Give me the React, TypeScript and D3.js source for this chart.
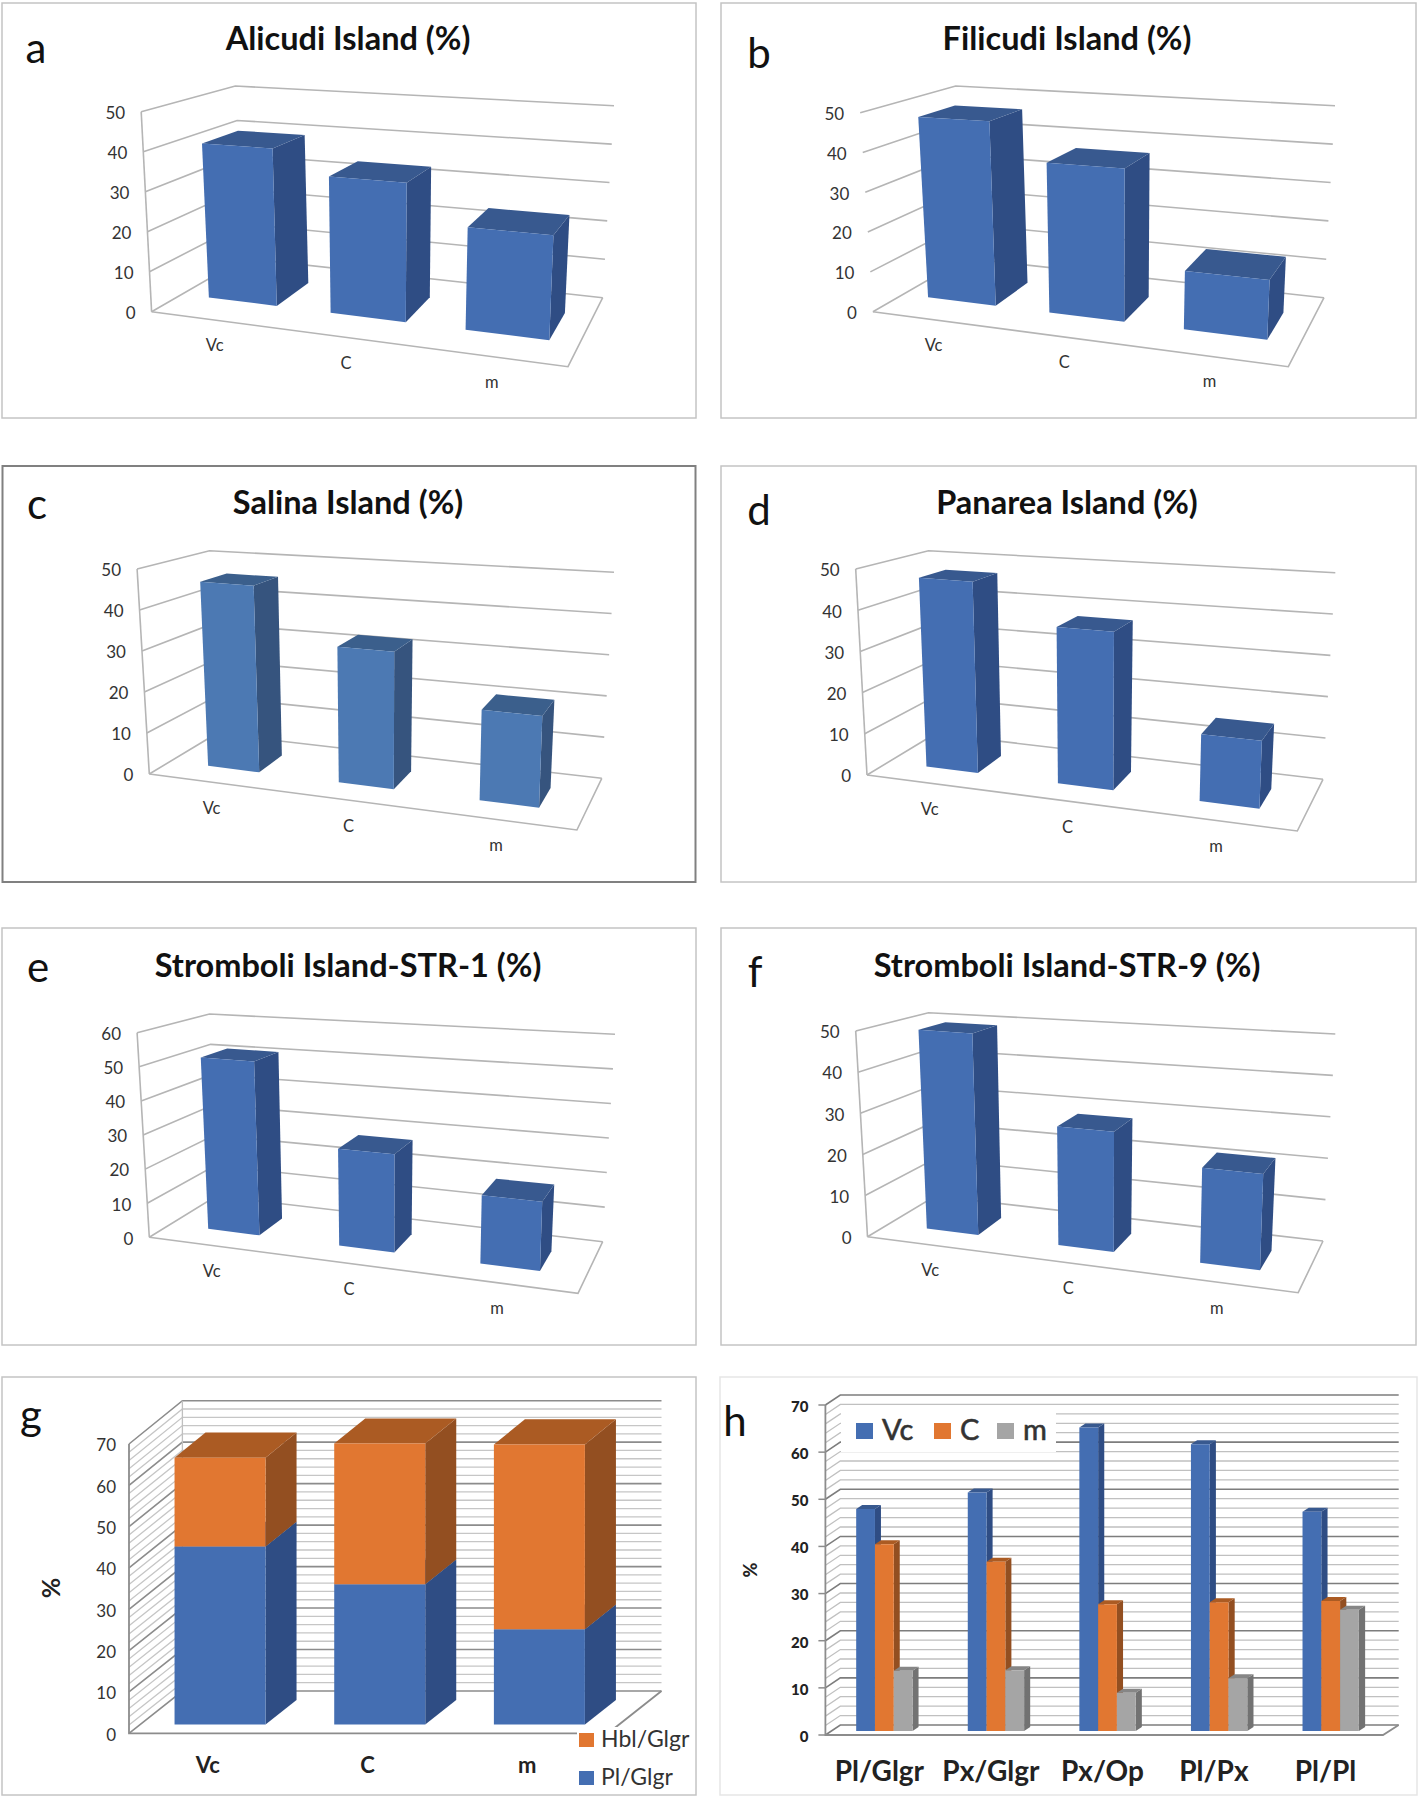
import React, { useEffect, useRef } from 'react';
import * as d3 from 'd3';

type Pt = [number, number];

const islandCategories = ['Vc', 'C', 'm'];
const alicudi = [40, 34, 24.5];
const filicudi = [47, 37.5, 14];
const salina = [46, 32.7, 21];
const panarea = [47, 37.5, 15.5];
const str1 = [51.5, 28, 19];
const str9 = [49.5, 28.5, 22];

const plGlgr = [43, 33.9, 23];
const hblGlgr = [21.5, 34, 44.7];

const ratioCategories = ['Pl/Glgr', 'Px/Glgr', 'Px/Op', 'Pl/Px', 'Pl/Pl'];
const ratioVc = [47.1, 50.6, 64.4, 60.8, 46.5];
const ratioC = [39.6, 35.9, 26.9, 27.3, 27.6];
const ratioM = [12.8, 12.9, 8.1, 11.2, 25.7];

const BLUE = { front: '#446eb2', side: '#2f4d84', top: '#38598f' };
const SOFT_BLUE = { front: '#4c79b3', side: '#36547e', top: '#3b5f8c' };
const ORANGE = { front: '#e17731', side: '#934f21', top: '#ab5b23' };
const GRAY = { front: '#a5a5a5', side: '#727272', top: '#868686' };

interface Box {
  floor: Pt[]; // front-left, front-right, back-right, back-left
  top: Pt[];
  warp?: number; // foreshortening along the category axis
}

function bilinear(q: Pt[], u: number, v: number): Pt {
  const f = (i: number) =>
    (q[0][i] * (1 - u) + q[1][i] * u) * (1 - v) + (q[3][i] * (1 - u) + q[2][i] * u) * v;
  return [f(0), f(1)];
}

function projector(box: Box) {
  const k = box.warp || 0;
  return (u: number, v: number, w: number): Pt => {
    const s = u / (1 + k * (1 - u));
    const a = bilinear(box.floor, s, v), b = bilinear(box.top, s, v);
    return [a[0] + (b[0] - a[0]) * w, a[1] + (b[1] - a[1]) * w];
  };
}

const line = d3.line<Pt>();
const poly = (pts: Pt[]) => line(pts) + 'Z';

function drawBar(g: any, P: any, u0: number, u1: number, v0: number, v1: number, w0: number, w1: number, c: any) {
  g.append('path').attr('d', poly([P(u1, v0, w0), P(u1, v1, w0), P(u1, v1, w1), P(u1, v0, w1)])).attr('fill', c.side);
  g.append('path').attr('d', poly([P(u0, v0, w1), P(u1, v0, w1), P(u1, v1, w1), P(u0, v1, w1)])).attr('fill', c.top);
  g.append('path').attr('d', poly([P(u0, v0, w0), P(u1, v0, w0), P(u1, v0, w1), P(u0, v0, w1)])).attr('fill', c.front);
}

function panelFrame(svg: any, f: number[], color = '#c4c4c4', width = 1.5) {
  svg.append('rect').attr('x', f[0]).attr('y', f[1]).attr('width', f[2] - f[0]).attr('height', f[3] - f[1])
    .attr('fill', '#fff').attr('stroke', color).attr('stroke-width', width);
}

function label(svg: any, x: number, y: number, txt: string, size: number, opts: any = {}) {
  const t = svg.append('text').attr('x', x).attr('y', y)
    .attr('font-family', 'Lato, "Open Sans", sans-serif')
    .attr('font-size', size)
    .attr('font-weight', opts.weight || 400)
    .attr('fill', opts.fill || '#333')
    .attr('text-anchor', opts.anchor || 'middle')
    .attr('dominant-baseline', opts.baseline || 'auto')
    .text(txt);
  if (opts.rotate) t.attr('transform', `rotate(${opts.rotate} ${x} ${y})`);
  if (opts.heavy) t.attr('stroke', opts.fill || '#333').attr('stroke-width', opts.heavy);
  return t;
}

interface IslandPanel {
  title: string; letter: string; values: number[]; max: number;
  frame: number[]; box: Box; titleAt: Pt; letterAt: Pt;
  padInner: number; depth: Pt; uShift?: number; catDx?: number;
  colors?: any; axisLine?: boolean; frameColor?: string; frameWidth?: number;
}

const islandPanels: IslandPanel[] = [
  {
    title: 'Alicudi Island (%)', letter: 'a', values: alicudi, max: 50, frame: [2, 3, 696, 418],
    box: {
      floor: [[151.6, 311.7], [568, 366.7], [602.7, 297.7], [244.3, 258.3]],
      top: [[141.2, 111.7], [577.4, 139], [614, 105.7], [235.3, 86]],
      warp: 0.17,
    },
    titleAt: [348, 50], letterAt: [36, 63], padInner: 0.43, depth: [0.33, 0.73], uShift: 0.006, axisLine: true,
  },
  {
    title: 'Filicudi Island (%)', letter: 'b', values: filicudi, max: 50, frame: [721, 3, 1416, 418],
    box: {
      floor: [[872.9, 311.7], [1288.3, 366.7], [1324, 297.7], [965.7, 258.3]],
      top: [[860.2, 112.7], [1298.2, 139], [1335, 105.7], [955.7, 86]],
      warp: 0.17,
    },
    titleAt: [1067, 50], letterAt: [759, 68], padInner: 0.43, depth: [0.33, 0.73],
  },
  {
    title: 'Salina Island (%)', letter: 'c', values: salina, max: 50, frame: [2.5, 466, 695.5, 882],
    box: {
      floor: [[149.3, 774], [576.9, 830], [601.8, 778.3], [216.3, 733.7]],
      top: [[137.1, 569], [586, 602], [614, 572.3], [209.5, 550.7]],
      warp: 0.12,
    },
    titleAt: [348, 514], letterAt: [37, 519], padInner: 0.6, depth: [0.32, 0.71], catDx: -2.5,
    colors: SOFT_BLUE, axisLine: true, frameColor: '#808080', frameWidth: 2,
  },
  {
    title: 'Panarea Island (%)', letter: 'd', values: panarea, max: 50, frame: [721, 466, 1416, 882],
    box: {
      floor: [[867, 775], [1297.3, 831], [1323, 779.3], [935.3, 733.7]],
      top: [[855.7, 569], [1306.4, 602], [1335.3, 572.7], [928.5, 550.7]],
      warp: 0.12,
    },
    titleAt: [1067, 514], letterAt: [759, 525], padInner: 0.6, depth: [0.32, 0.71], catDx: -2.5, axisLine: true,
  },
  {
    title: 'Stromboli Island-STR-1 (%)', letter: 'e', values: str1, max: 60, frame: [2, 928, 696, 1345],
    box: {
      floor: [[149.3, 1237.3], [578, 1293.3], [602.7, 1241.7], [216.3, 1196]],
      top: [[137.1, 1032.7], [586, 1065], [615, 1034.3], [209.5, 1014]],
      warp: 0.12,
    },
    titleAt: [348, 977], letterAt: [38, 982], padInner: 0.6, depth: [0.32, 0.71], catDx: -2.5, axisLine: true,
  },
  {
    title: 'Stromboli Island-STR-9 (%)', letter: 'f', values: str9, max: 50, frame: [721, 928, 1416, 1345],
    box: {
      floor: [[867.5, 1236.7], [1298.2, 1292.7], [1323, 1241], [935.3, 1196]],
      top: [[855.7, 1031], [1306.4, 1064], [1335.3, 1034], [928.5, 1012.7]],
      warp: 0.12,
    },
    titleAt: [1067, 977], letterAt: [755, 987], padInner: 0.6, depth: [0.32, 0.71], catDx: -2.5, axisLine: true,
  },
];

function drawIsland(svg: any, p: IslandPanel) {
  panelFrame(svg, p.frame, p.frameColor, p.frameWidth);
  label(svg, p.titleAt[0], p.titleAt[1], p.title, 32.5, { weight: 700, fill: '#111' });
  label(svg, p.letterAt[0], p.letterAt[1], p.letter, 42, { fill: '#111' });

  const P = projector(p.box);
  const shift = p.uShift || 0;
  const y = d3.scaleLinear().domain([0, p.max]).range([0, 1]);
  const x = d3.scaleBand<string>().domain(islandCategories).range([shift, 1 + shift])
    .paddingInner(p.padInner).paddingOuter(p.padInner / 2);
  const grid = svg.append('g').attr('fill', 'none').attr('stroke', '#b5b5b5').attr('stroke-width', 1.6);

  y.ticks(p.max / 10).forEach((t) => {
    const w = y(t);
    grid.append('path').attr('d', line([P(0, 0, w), P(0, 1, w), P(1, 1, w)]));
    label(svg, P(0, 0, w)[0] - 16, P(0, 0, w)[1] + 3, String(t), 17, { anchor: 'end', baseline: 'middle' });
  });
  grid.append('path').attr('d', line([P(0, 0, 0), P(1, 0, 0), P(1, 1, 0)]));
  if (p.axisLine) grid.append('path').attr('d', line([P(0, 0, 0), P(0, 0, 1)]));

  const bars = svg.append('g');
  islandCategories.forEach((c, i) => {
    const u0 = x(c)!, u1 = u0 + x.bandwidth();
    drawBar(bars, P, u0, u1, p.depth[0], p.depth[1], 0, y(p.values[i]), p.colors || BLUE);
    const a = P((u0 + u1) / 2, 0, 0);
    label(svg, a[0] + (p.catDx || 0), a[1] + 27, c, 16.5, { baseline: 'middle' });
  });
}

const stackedBox: Box = {
  floor: [[129, 1733.3], [608, 1733.3], [661.5, 1691], [182.4, 1691]],
  top: [[129, 1444], [608, 1444], [661.5, 1400.7], [182.4, 1400.7]],
};

function drawStacked(svg: any) {
  panelFrame(svg, [2, 1377, 696, 1795]);
  label(svg, 31, 1430, 'g', 42, { fill: '#111' });
  const P = projector(stackedBox);
  const y = d3.scaleLinear().domain([0, 70]).range([0, 1]);
  const x = d3.scaleBand<string>().domain(islandCategories).range([0, 1]).paddingInner(0.43).paddingOuter(0.215);

  y.ticks(35).forEach((t) => {
    const w = y(t);
    svg.append('path').attr('d', line([P(0, 0, w), P(0, 1, w), P(1, 1, w)])).attr('fill', 'none')
      .attr('stroke', t % 10 === 0 ? '#8c8c8c' : '#c6c6c6').attr('stroke-width', t % 10 === 0 ? 1.6 : 1.3);
  });
  y.ticks(7).forEach((t) => {
    const a = P(0, 0, y(t));
    label(svg, a[0] - 13, a[1] + 3, String(t), 17, { anchor: 'end', baseline: 'middle' });
  });
  svg.append('path').attr('d', line([P(0, 0, 1), P(0, 0, 0), P(1, 0, 0), P(1, 1, 0)])).attr('fill', 'none')
    .attr('stroke', '#8c8c8c').attr('stroke-width', 1.8);
  svg.append('path').attr('d', line([P(0, 1, 1), P(0, 1, 0)])).attr('fill', 'none').attr('stroke', '#c0c0c0').attr('stroke-width', 1.3);

  islandCategories.forEach((c, i) => {
    const u0 = x(c)!, u1 = u0 + x.bandwidth();
    drawBar(svg, P, u0, u1, 0.21, 0.79, 0, y(plGlgr[i]), BLUE);
    drawBar(svg, P, u0, u1, 0.21, 0.79, y(plGlgr[i]), y(plGlgr[i] + hblGlgr[i]), ORANGE);
    label(svg, P((u0 + u1) / 2, 0, 0)[0] - 1, 1767, c, 22, { weight: 700, baseline: 'middle', fill: '#222' });
  });

  label(svg, 54, 1588, '%', 25, { weight: 700, rotate: -90, baseline: 'middle', fill: '#222' });
  svg.append('rect').attr('x', 577).attr('y', 1727).attr('width', 112).attr('height', 64).attr('fill', '#fff');
  svg.append('rect').attr('x', 579).attr('y', 1733).attr('width', 15).attr('height', 14).attr('fill', ORANGE.front);
  svg.append('rect').attr('x', 579).attr('y', 1771).attr('width', 15).attr('height', 14).attr('fill', BLUE.front);
  label(svg, 601, 1741, 'Hbl/Glgr', 23, { anchor: 'start', baseline: 'middle' });
  label(svg, 601, 1779, 'Pl/Glgr', 23, { anchor: 'start', baseline: 'middle' });
}

const ratioBox: Box = {
  floor: [[825.4, 1735], [1383, 1735], [1398.7, 1725], [840.3, 1725]],
  top: [[825.4, 1405], [1383, 1405], [1398.7, 1395], [840.3, 1395]],
};

function drawRatios(svg: any) {
  panelFrame(svg, [720, 1377, 1417, 1795], '#e6e6e6');
  label(svg, 735, 1436, 'h', 42, { fill: '#111' });
  const P = projector(ratioBox);
  const y = d3.scaleLinear().domain([0, 70]).range([0, 1]);
  const x = d3.scaleBand<string>().domain(ratioCategories).range([-0.005, 0.995]).paddingInner(0.495).paddingOuter(0.2475);
  const series = [ratioVc, ratioC, ratioM];
  const colors = [BLUE, ORANGE, GRAY];
  const names = ['Vc', 'C', 'm'];
  const inner = d3.scaleBand<string>().domain(names).range([0, x.bandwidth()]);

  y.ticks(35).forEach((t) => {
    const w = y(t);
    svg.append('path').attr('d', line([P(0, 0, w), P(0, 1, w), P(1, 1, w)])).attr('fill', 'none')
      .attr('stroke', t % 10 === 0 ? '#7d7d7d' : '#c0c0c0').attr('stroke-width', t % 10 === 0 ? 1.6 : 1.3);
  });
  y.ticks(7).forEach((t) => {
    const a = P(0, 0, y(t));
    svg.append('path').attr('d', line([[a[0] - 7, a[1]], a])).attr('stroke', '#8c8c8c').attr('stroke-width', 1.5);
    label(svg, a[0] - 17, a[1] + 3, String(t), 15, { anchor: 'end', baseline: 'middle', weight: 900, fill: '#222' });
  });
  svg.append('path').attr('d', line([P(0, 0, 1), P(0, 0, 0), P(1, 0, 0), P(1, 1, 0)])).attr('fill', 'none')
    .attr('stroke', '#8c8c8c').attr('stroke-width', 1.8);

  ratioCategories.forEach((c, i) => {
    const base = x(c)!;
    names.forEach((n, k) => {
      const u0 = base + inner(n)!;
      drawBar(svg, P, u0, u0 + inner.bandwidth(), 0.4, 0.8, 0, y(series[k][i]), colors[k]);
    });
    const mid = P(base + x.bandwidth() / 2, 0, 0)[0];
    label(svg, mid + 1, 1774, c, 28, { weight: 700, baseline: 'middle', fill: '#222' });
  });

  label(svg, 752, 1570, '%', 18, { weight: 900, rotate: -90, baseline: 'middle', fill: '#222' });

  svg.append('rect').attr('x', 841).attr('y', 1413).attr('width', 215).attr('height', 39).attr('fill', '#fff');
  [[856, 882], [934, 960], [997, 1023]].forEach(([sx, tx], k) => {
    svg.append('rect').attr('x', sx).attr('y', 1423).attr('width', 17).attr('height', 16).attr('fill', colors[k].front);
    label(svg, tx, 1433, names[k], 29, { anchor: 'start', baseline: 'middle', heavy: 0.6 });
  });
}

const App: React.FC = () => {
  const svgRef = useRef<SVGSVGElement>(null);

  useEffect(() => {
    if (!svgRef.current) return;
    const svg = d3.select(svgRef.current);
    svg.selectAll('*').remove();
    islandPanels.forEach((p) => drawIsland(svg, p));
    drawStacked(svg);
    drawRatios(svg);
  }, []);

  return <svg ref={svgRef} width={1418} height={1798} style={{ position: 'absolute', left: 0, top: 0, background: '#fff' }} />;
};

export default App;
